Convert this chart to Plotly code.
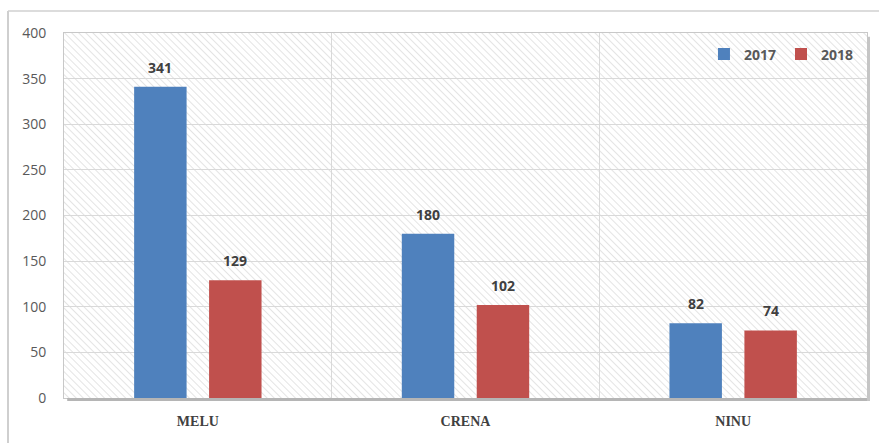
import base64
import plotly.graph_objects as go

# Data
categories = ["MELU", "CRENA", "NINU"]
years = ["2017", "2018"]
values_2017 = [341, 180, 82]
values_2018 = [129, 102, 74]
y_ticks = [0, 50, 100, 150, 200, 250, 300, 350, 400]

colors = {"2017": "#4F81BD", "2018": "#C0504D"}

W, H = 879, 443
M_L, M_R, M_T, M_B = 64, 12, 33, 45
PW, PH = W - M_L - M_R, H - M_T - M_B

BARGAP, BARGROUPGAP = 0.44, 0.3

# Diagonal hatch texture for the plot background
hatch_svg = f"""<svg xmlns='http://www.w3.org/2000/svg' width='{PW}' height='{PH}' viewBox='0 0 {PW} {PH}' preserveAspectRatio='none'>
<defs><pattern id='h' width='5' height='5' patternUnits='userSpaceOnUse' patternTransform='rotate(-45)'>
<rect width='5' height='5' fill='#ffffff'/><line x1='0' y1='0' x2='0' y2='5' stroke='#e4e4e4' stroke-width='2'/></pattern></defs>
<rect width='{PW}' height='{PH}' fill='url(#h)'/></svg>"""
hatch_uri = "data:image/svg+xml;base64," + base64.b64encode(hatch_svg.encode()).decode()

fig = go.Figure()
series = [values_2017, values_2018]
for yr, vals in zip(years, series):
    fig.add_trace(go.Bar(
        name=yr, x=categories, y=vals,
        marker=dict(color=colors[yr], line=dict(width=0)),
        hoverinfo="x+y+name",
    ))

# Value labels sit above each bar, shifted to the bar's slot within its group
slot_px = PW / len(categories) * (1 - BARGAP) / len(years)
annotations = []
for i, (yr, vals) in enumerate(zip(years, series)):
    shift = (i - (len(years) - 1) / 2) * slot_px
    for cat, v in zip(categories, vals):
        annotations.append(dict(
            x=cat, y=v, xref="x", yref="y", text=str(v), showarrow=False,
            xanchor="center", yanchor="bottom", xshift=shift, yshift=8,
            font=dict(family="Open Sans", size=14, color="#404040", weight="bold"),
        ))

fig.update_layout(
    width=W, height=H,
    margin=dict(l=M_L, r=M_R, t=M_T, b=M_B),
    paper_bgcolor="white", plot_bgcolor="white",
    barmode="group", bargap=BARGAP, bargroupgap=BARGROUPGAP,
    showlegend=True,
    legend=dict(
        orientation="h", x=0.99, y=0.985, xanchor="right", yanchor="top",
        bgcolor="rgba(0,0,0,0)",
        font=dict(family="Open Sans", size=14, color="#595959", weight="bold"),
        itemwidth=30, tracegroupgap=0,
    ),
    annotations=annotations,
    images=[dict(source=hatch_uri, xref="paper", yref="paper", x=0, y=1,
                 sizex=1, sizey=1, sizing="stretch", layer="below",
                 xanchor="left", yanchor="top")],
    xaxis=dict(
        type="category", tickson="boundaries", ticks="",
        showgrid=True, gridcolor="#d9d9d9", gridwidth=1,
        showline=True, linecolor="#c8c8c8", linewidth=1, mirror=True,
        tickfont=dict(family="Liberation Serif", size=14, color="#404040", weight="bold"),
        ticklabelstandoff=10,
    ),
    yaxis=dict(
        range=[0, 400], tickvals=y_ticks, ticks="",
        showgrid=True, gridcolor="#d9d9d9", gridwidth=1,
        showline=True, linecolor="#c8c8c8", linewidth=1, mirror=True,
        zeroline=False,
        tickfont=dict(family="Open Sans", size=14, color="#595959"),
        ticklabelstandoff=14,
    ),
    shapes=[
        # drop shadow along bottom and right edges of the plot area
        dict(type="rect", xref="paper", yref="paper", x0=0.004, x1=1,
             ysizemode="pixel", yanchor=0, y0=-3, y1=0,
             fillcolor="#b5b5b5", line=dict(width=0), layer="above"),
        dict(type="rect", yref="paper", xref="paper", y0=-0.008, y1=0.99,
             xsizemode="pixel", xanchor=1, x0=0, x1=3,
             fillcolor="#c5c5c5", line=dict(width=0), layer="above"),
        # outer frame (left and top edges)
        dict(type="line", xref="paper", yref="paper",
             xsizemode="pixel", xanchor=0, x0=8 - M_L, x1=8 - M_L,
             ysizemode="pixel", yanchor=0, y0=-M_B - 2, y1=PH + M_T - 11,
             line=dict(color="#bfbfbf", width=1.5)),
        dict(type="line", xref="paper", yref="paper",
             xsizemode="pixel", xanchor=0, x0=8 - M_L, x1=W - M_L + 2,
             ysizemode="pixel", yanchor=0, y0=PH + M_T - 11, y1=PH + M_T - 11,
             line=dict(color="#d0d0d0", width=1.5)),
    ],
)

fig.write_html("out.html")
